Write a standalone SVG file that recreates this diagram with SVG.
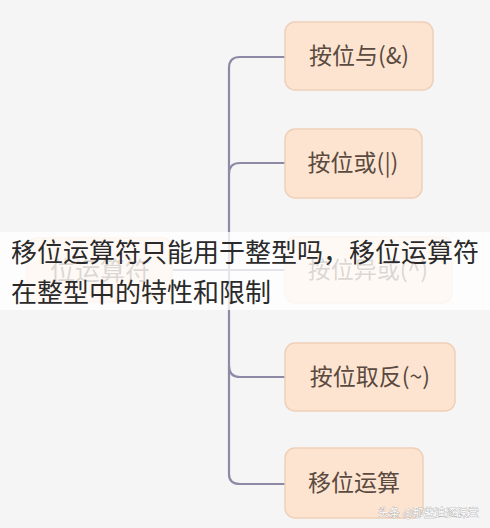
<svg xmlns="http://www.w3.org/2000/svg" width="490" height="528" viewBox="0 0 490 528">
<style>
.box{fill:#fde4d1;stroke:#efcfb8;stroke-width:1.5}
.lbl{font-family:"Noto Sans CJK SC","Noto Sans",sans-serif;font-size:23px;fill:#5a4a3f;text-anchor:middle}
.root{font-size:25px}
.conn{fill:none;stroke:#8e8aa6;stroke-width:2.2}
.title{font-family:"Noto Sans CJK SC","Noto Sans",sans-serif;font-size:26px;fill:#2a2a2a}
.wm{font-family:"Noto Sans CJK SC",sans-serif;font-size:11px;fill:#ffffff;stroke:#9a9a9a;stroke-width:0.6;paint-order:stroke}
</style>
<rect width="490" height="528" fill="#f5f5f6"/>
<g id="connectors">
<path class="conn" d="M285,57 H240 Q229,57 229,68 V474 Q229,484 240,484 H285"/>
<path class="conn" d="M285,163 H240 Q229,163 229,174"/>
<path class="conn" d="M229,366 Q229,377 240,377 H285"/>
<path class="conn" d="M172,270 H285"/>
</g>
<g id="root">
<rect class="box" x="27" y="238" width="145" height="64" rx="10"/>
<text class="lbl root" x="100" y="280">位运算符</text>
</g>
<g id="n1">
<rect class="box" x="285" y="22" width="148" height="68" rx="10"/>
<text class="lbl" x="359" y="64">按位与(&amp;)</text>
</g>
<g id="n2">
<rect class="box" x="285" y="129" width="137" height="69" rx="10"/>
<text class="lbl" x="353" y="171">按位或(|)</text>
</g>
<g id="n3">
<rect class="box" x="285" y="237" width="167" height="66" rx="10"/>
<text class="lbl" x="368" y="278">按位异或(^)</text>
</g>
<g id="n4">
<rect class="box" x="285" y="343" width="170" height="68" rx="10"/>
<text class="lbl" x="370" y="385">按位取反(~)</text>
</g>
<g id="n5">
<rect class="box" x="285" y="448" width="138" height="70" rx="10"/>
<text class="lbl" x="354" y="491">移位运算</text>
</g>
<rect x="0" y="232" width="490" height="78" fill="#ffffff" fill-opacity="0.78"/>
<text class="title" x="11" y="262">移位运算符只能用于整型吗，移位运算符</text>
<text class="title" x="11" y="302">在整型中的特性和限制</text>
<text class="wm" x="378" y="517">头条 @那些追逐课堂</text>
</svg>
